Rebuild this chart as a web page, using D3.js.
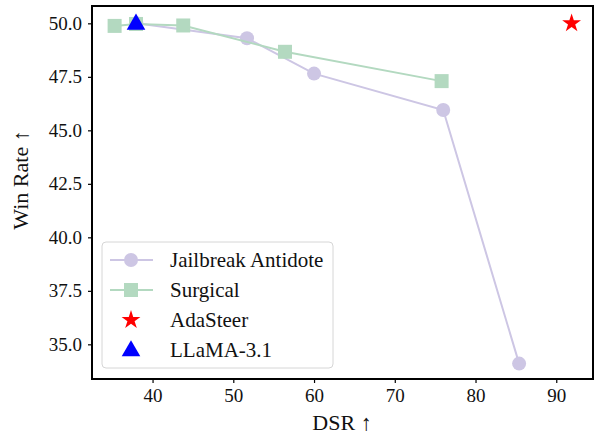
<!DOCTYPE html>
<html>
<head>
<meta charset="utf-8">
<script src="https://cdn.jsdelivr.net/npm/d3@7"></script>
<style>
  body { margin: 0; background: #fff; }
  svg text { font-family: "Liberation Serif", "Times New Roman", serif; fill: #111; }
</style>
</head>
<body>
<svg id="chart" width="595" height="435"></svg>
<script>
// data
var antidoteDSR = [38.0, 51.7, 60.0, 76.0, 85.4];
var antidoteWR  = [50.0, 49.3, 47.65, 45.95, 34.1];
var surgicalDSR = [35.3, 37.95, 43.8, 56.4, 75.8];
var surgicalWR  = [49.88, 49.97, 49.9, 48.67, 47.3];
var adaSteer    = [{dsr: 91.9, wr: 50.0}];
var llama       = [{dsr: 37.95, wr: 50.0}];
var xTicks = [40, 50, 60, 70, 80, 90];
var yTicks = [35.0, 37.5, 40.0, 42.5, 45.0, 47.5, 50.0];

(function() {
var purple = "#cdc6e4", green = "#b3d9c0";
var serif = "'Liberation Serif', 'Times New Roman', serif";

var svg = d3.select("#chart");
var pl = 92, pr = 593, pt = 6, pb = 379;

var x = d3.scaleLinear().domain([32.5, 94.55]).range([pl, pr]);
var y = d3.scaleLinear().domain([33.38, 50.81]).range([pb, pt]);

// axes
var xAxis = svg.append("g").attr("transform", "translate(0," + pb + ")")
  .call(d3.axisBottom(x).tickValues(xTicks).tickSize(4).tickPadding(6).tickFormat(d3.format("d")));
var yAxis = svg.append("g").attr("transform", "translate(" + pl + ",0)")
  .call(d3.axisLeft(y).tickValues(yTicks).tickSize(4).tickPadding(6).tickFormat(d3.format(".1f")));
[xAxis, yAxis].forEach(function(a){
  a.attr("font-family", serif).attr("font-size", 19);
  a.select(".domain").remove();
  a.selectAll("line").attr("stroke", "#000").attr("stroke-width", 1.2);
  a.selectAll("text").style("font-family", serif).style("font-size", "19px").attr("fill", "#111");
});

var antidote = antidoteDSR.map(function(d, i){ return {dsr: d, wr: antidoteWR[i]}; });
var surgical = surgicalDSR.map(function(d, i){ return {dsr: d, wr: surgicalWR[i]}; });

var line = d3.line().x(function(d){ return x(d.dsr); }).y(function(d){ return y(d.wr); });

var plot = svg.append("g");

plot.append("path").datum(antidote).attr("d", line)
  .attr("fill", "none").attr("stroke", purple).attr("stroke-width", 2);
plot.selectAll(".circ").data(antidote).enter().append("circle")
  .attr("cx", function(d){ return x(d.dsr); }).attr("cy", function(d){ return y(d.wr); })
  .attr("r", 7).attr("fill", purple);

plot.append("path").datum(surgical).attr("d", line)
  .attr("fill", "none").attr("stroke", green).attr("stroke-width", 2);
plot.selectAll(".sq").data(surgical).enter().append("rect")
  .attr("x", function(d){ return x(d.dsr) - 7; }).attr("y", function(d){ return y(d.wr) - 7; })
  .attr("width", 14).attr("height", 14).attr("fill", green);

var star = d3.symbol().type(d3.symbolStar).size(110);
var tri = d3.symbol().type(d3.symbolTriangle).size(150);

plot.selectAll(".star").data(adaSteer).enter().append("path")
  .attr("d", star)
  .attr("transform", function(d){ return "translate(" + x(d.dsr) + "," + y(d.wr) + ")"; })
  .attr("fill", "#ff0000");
plot.selectAll(".tri").data(llama).enter().append("path")
  .attr("d", tri)
  .attr("transform", function(d){ return "translate(" + x(d.dsr) + "," + (y(d.wr) + 1) + ")"; })
  .attr("fill", "#0000ff");

// frame
svg.append("rect").attr("x", pl).attr("y", pt).attr("width", pr - pl).attr("height", pb - pt)
  .attr("fill", "none").attr("stroke", "#000").attr("stroke-width", 2);

// legend
var lg = svg.append("g");
lg.append("rect").attr("x", 102).attr("y", 242).attr("width", 231).attr("height", 126)
  .attr("rx", 4).attr("fill", "#fff").attr("fill-opacity", 0.8)
  .attr("stroke", "#d6d6d6").attr("stroke-width", 1);
var items = [
  {label: "Jailbreak Antidote", kind: "circle"},
  {label: "Surgical", kind: "square"},
  {label: "AdaSteer", kind: "star"},
  {label: "LLaMA-3.1", kind: "tri"}
];
items.forEach(function(it, i){
  var cy = 260 + i * 30;
  var g = lg.append("g");
  if (it.kind === "circle" || it.kind === "square") {
    var c = it.kind === "circle" ? purple : green;
    g.append("line").attr("x1", 110).attr("x2", 153).attr("y1", cy).attr("y2", cy)
      .attr("stroke", c).attr("stroke-width", 2);
    if (it.kind === "circle") g.append("circle").attr("cx", 131).attr("cy", cy).attr("r", 7).attr("fill", c);
    else g.append("rect").attr("x", 124).attr("y", cy - 7).attr("width", 14).attr("height", 14).attr("fill", c);
  } else if (it.kind === "star") {
    g.append("path").attr("d", star).attr("transform", "translate(131," + cy + ")").attr("fill", "#ff0000");
  } else {
    g.append("path").attr("d", tri).attr("transform", "translate(131," + (cy + 1) + ")").attr("fill", "#0000ff");
  }
  g.append("text").attr("x", 170).attr("y", cy + 7).style("font-size", "21px").text(it.label);
});

// axis labels
svg.append("text").attr("x", 342).attr("y", 430).attr("text-anchor", "middle")
  .style("font-size", "22px").text("DSR ↑");
svg.append("text").attr("transform", "translate(28,180) rotate(-90)")
  .attr("text-anchor", "middle").style("font-size", "22px").text("Win Rate ↑");
})();
</script>
</body>
</html>
